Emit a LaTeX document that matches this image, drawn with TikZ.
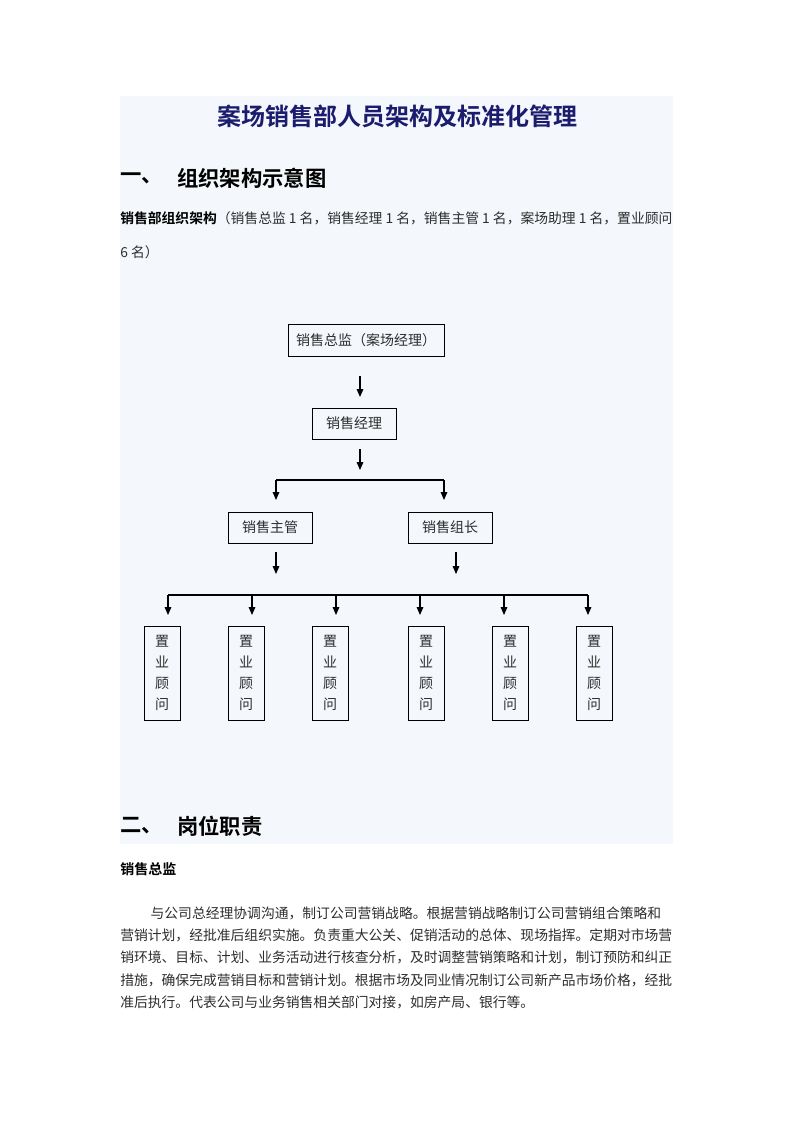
\documentclass[tikz,border=0pt]{standalone}
\usepackage{fontspec}
\setmainfont{Noto Sans CJK SC}[BoldFont={Noto Sans CJK SC Bold}]
\XeTeXlinebreaklocale "zh"
\XeTeXlinebreakskip = 0pt plus 1pt
\usetikzlibrary{arrows.meta}
\definecolor{pagebg}{RGB}{244,248,252}
\definecolor{titleblue}{RGB}{28,28,110}
\definecolor{inkgray}{RGB}{45,45,45}
\tikzset{
	post/.style = {-{Triangle[length = 6pt, width = 5pt]}, line width = 0.8pt},
	bar/.style = {line width = 0.8pt},
	box/.style = {draw, line width = 0.75pt, inner sep = 0pt, text = inkgray, font = \fontsize{10.5}{15.75}\selectfont},
	wide box/.style = {box, minimum width = 117pt, minimum height = 24pt},
	mid box/.style = {box, minimum width = 63pt, minimum height = 23.25pt},
	gw box/.style = {box, minimum width = 27pt, minimum height = 70.5pt, align = center},
	heading/.style = {anchor = west, inner sep = 0pt, font = \bfseries\fontsize{16}{20}\selectfont},
	bodyline/.style = {anchor = west, inner sep = 0pt, text = inkgray, text width = 416pt, align = justify, font = \fontsize{10.35}{16}\selectfont}
}
\begin{document}
\begin{tikzpicture}[x = 0.75pt, y = -0.75pt]
	\useasboundingbox (0, 0) rectangle (793, 1122);
	\fill[pagebg] (120, 96) rectangle (673, 844);
	% title and section one
	\node[font = \bfseries\fontsize{18}{22}\selectfont, text = titleblue] (title) at (397, 116) {案场销售部人员架构及标准化管理};
	\node[heading] (h1num) at (120, 178) {一、};
	\node[heading] (h1) at (177, 178) {组织架构示意图};
	\node[bodyline] (intro1) at (120, 218) {\textbf{\color{black}销售部组织架构}（销售总监 1 名，销售经理 1 名，销售主管 1 名，案场助理 1 名，置业顾问};
	\node[anchor = west, inner sep = 0pt, text = inkgray, font = \fontsize{10.35}{16}\selectfont] (intro2) at (120, 252) {6 名）};
	% chart
	\node[wide box] (zj) at (366, 340) {销售总监（案场经理）};
	\node[mid box] (jl) at (354, 423.5) {销售经理};
	\node[mid box] (zg) at (270, 527.5) {销售主管};
	\node[mid box] (zz) at (450, 527.5) {销售组长};
	\foreach \x [count = \i] in {162, 246, 330, 426, 510, 594}
		\node[gw box] (gw\i) at (\x, 673) {置\\业\\顾\\问};
	\coordinate (a1) at (360, 376);
	\coordinate (b1) at (360, 397);
	\coordinate (a2) at (360, 449);
	\coordinate (b2) at (360, 470);
	\draw[post] (a1) -- (b1);
	\draw[post] (a2) -- (b2);
	\coordinate (l1) at (276, 480);
	\coordinate (r1) at (444, 480);
	\draw[bar] (l1) -- (r1);
	\draw[post] (l1) -- ++(0, 20);
	\draw[post] (r1) -- ++(0, 20);
	\coordinate (a3) at (276, 552);
	\coordinate (a4) at (456, 552);
	\draw[post] (a3) -- ++(0, 22);
	\draw[post] (a4) -- ++(0, 22);
	\foreach \x [count = \i] in {168, 252, 336, 420, 504, 588}
		\coordinate (g\i) at (\x, 595);
	\draw[bar] (g1) -- (g6);
	\foreach \i in {1, ..., 6}
		\draw[post] (g\i) -- ++(0, 20);
	% section two
	\node[heading] (h2num) at (120, 826) {二、};
	\node[heading] (h2) at (177, 826) {岗位职责};
	\node[anchor = west, inner sep = 0pt, font = \bfseries\fontsize{10.5}{14}\selectfont] (zjtitle) at (120, 869) {销售总监};
	\node[bodyline] (p1) at (120, 913) {\hspace*{2.2em}与公司总经理协调沟通，制订公司营销战略。根据营销战略制订公司营销组合策略和};
	\node[bodyline] (p2) at (120, 935) {营销计划，经批准后组织实施。负责重大公关、促销活动的总体、现场指挥。定期对市场营};
	\node[bodyline] (p3) at (120, 957) {销环境、目标、计划、业务活动进行核查分析，及时调整营销策略和计划，制订预防和纠正};
	\node[bodyline] (p4) at (120, 980) {措施，确保完成营销目标和营销计划。根据市场及同业情况制订公司新产品市场价格，经批};
	\node[anchor = west, inner sep = 0pt, text = inkgray, font = \fontsize{10.35}{16}\selectfont] (p5) at (120, 1002) {准后执行。代表公司与业务销售相关部门对接，如房产局、银行等。};
\end{tikzpicture}
\end{document}
